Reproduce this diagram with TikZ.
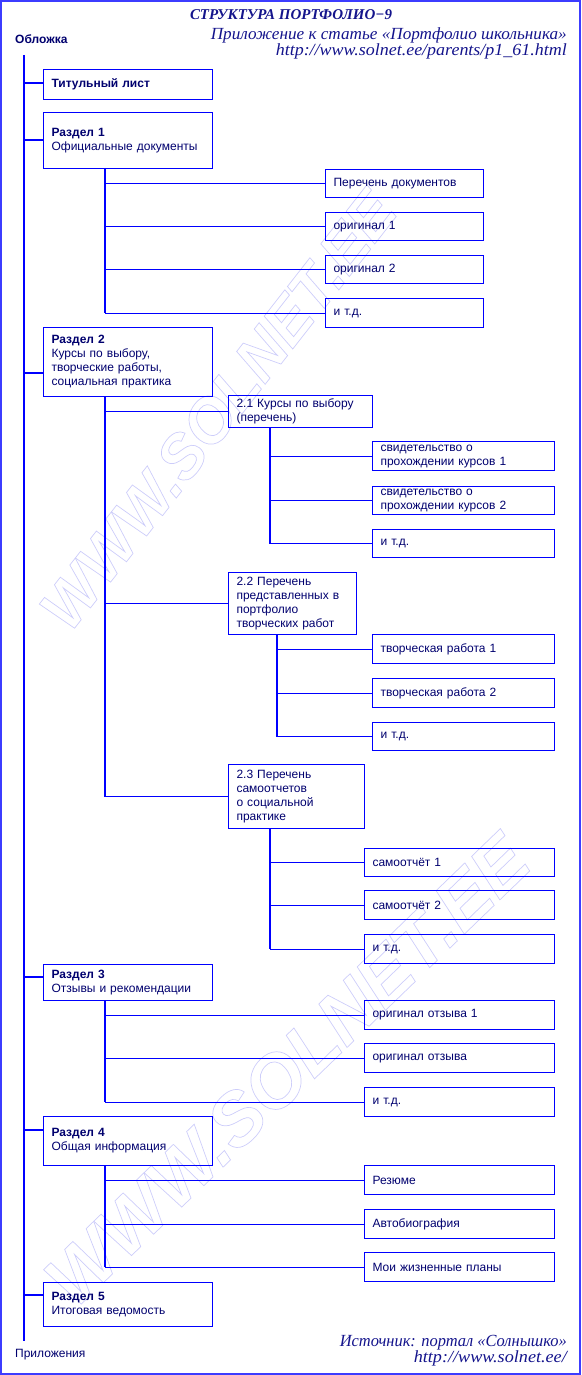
\documentclass[tikz,border=0pt]{standalone}
\usepackage{fontspec}
\usepackage{graphicx}
\setmainfont{Liberation Sans}
\newfontfamily\serifrm{Liberation Serif}
\definecolor{lineblue}{RGB}{0,0,255}
\definecolor{frameblue}{RGB}{60,60,255}
\definecolor{txt}{RGB}{0,0,110}
\definecolor{headblue}{RGB}{20,20,140}
\definecolor{wm}{RGB}{205,205,250}
\newcommand\wmtext[1]{\special{pdf:literal direct 1 Tr 0.7 w}#1\special{pdf:literal direct 0 Tr}}
\begin{document}
\begin{tikzpicture}[x=1pt,y=-1pt,
  box/.style={draw=lineblue, line width=1.1pt, anchor=north west, inner xsep=8pt, inner ysep=0pt,
    align=left, font=\fontsize{12}{14}\selectfont, text=txt},
  conn/.style={draw=lineblue, line width=1.1pt},
  plain/.style={inner sep=0pt, text=txt, font=\fontsize{12}{14}\selectfont},
  script/.style={inner sep=0pt, text=headblue, font=\serifrm\itshape\fontsize{17}{20}\selectfont},
  wmark/.style={inner sep=0pt, text=wm, font=\bfseries\itshape\fontsize{74}{80}\selectfont}]
\useasboundingbox (0,0) rectangle (581,1375);
% watermark
\node[wmark, rotate=52, font=\bfseries\itshape\fontsize{62}{66}\selectfont] (wm1) at (218,410) {\wmtext{WWW.SOLNET.EE}};
\node[wmark, rotate=44] (wm2) at (287,1070) {\wmtext{WWW.SOLNET.EE}};
% frame
\draw[frameblue, line width=2pt] (1,1) rectangle (580,1374);
% headings
\node[inner sep=0pt, anchor=base, text=headblue, font=\serifrm\bfseries\itshape\fontsize{15}{18}\selectfont] (title) at (291,20) {\resizebox{202pt}{\height}{СТРУКТУРА ПОРТФОЛИО−9}};
\node[script, anchor=base east] (sub1) at (567,40) {\resizebox{356pt}{\height}{Приложение к статье «Портфолио школьника»}};
\node[script, anchor=base east] (sub2) at (567,56) {\resizebox{291pt}{\height}{http://www.solnet.ee/parents/p1\_61.html}};
\node[script, anchor=base east] (src1) at (567,1346) {\resizebox{227pt}{\height}{Источник: портал «Солнышко»}};
\node[script, anchor=base east] (src2) at (567,1362) {\resizebox{153pt}{\height}{http://www.solnet.ee/}};
\node[plain, anchor=base west, font=\bfseries\fontsize{12}{14}\selectfont] (cover) at (15,44) {Обложка};
\node[plain, anchor=base west] (appx) at (15,1357) {Приложения};
% main boxes
\node[box, text width=153pt, minimum height=30pt] (tit) at (43,69) {\textbf{Титульный лист}};
\node[box, text width=153pt, minimum height=56pt] (r1) at (43,112) {\textbf{Раздел 1}\\Официальные документы};
\node[box, text width=153pt, minimum height=69pt] (r2) at (43,327) {\textbf{Раздел 2}\\Курсы по выбору,\\творческие работы,\\социальная практика};
\node[box, text width=153pt, minimum height=36pt] (r3) at (43,964) {\textbf{Раздел 3}\\Отзывы и рекомендации};
\node[box, text width=153pt, minimum height=49pt] (r4) at (43,1116) {\textbf{Раздел 4}\\Общая информация};
\node[box, text width=153pt, minimum height=44pt] (r5) at (43,1282) {\textbf{Раздел 5}\\Итоговая ведомость};
% section 1 children
\node[box, text width=142pt, minimum height=28pt] (c11) at (325,169) {Перечень документов};
\node[box, text width=142pt, minimum height=28pt] (c12) at (325,212) {оригинал 1};
\node[box, text width=142pt, minimum height=28pt] (c13) at (325,255) {оригинал 2};
\node[box, text width=142pt, minimum height=29pt] (c14) at (325,298) {и т.д.};
% section 2 sub boxes
\node[box, text width=128pt, minimum height=32pt] (s21) at (228,395) {2.1 Курсы по выбору\\(перечень)};
\node[box, text width=112pt, minimum height=62pt] (s22) at (228,572) {2.2 Перечень\\представленных в\\портфолио\\творческих работ};
\node[box, text width=120pt, minimum height=64pt] (s23) at (228,764) {2.3 Перечень\\самоотчетов\\о социальной\\практике};
\node[box, text width=166pt, minimum height=29pt] (c211) at (372,441) {свидетельство о\\прохождении курсов 1};
\node[box, text width=166pt, minimum height=28pt] (c212) at (372,486) {свидетельство о\\прохождении курсов 2};
\node[box, text width=166pt, minimum height=28pt] (c213) at (372,529) {и т.д.};
\node[box, text width=166pt, minimum height=29pt] (c221) at (372,634) {творческая работа 1};
\node[box, text width=166pt, minimum height=29pt] (c222) at (372,678) {творческая работа 2};
\node[box, text width=166pt, minimum height=28pt] (c223) at (372,722) {и т.д.};
\node[box, text width=174pt, minimum height=28pt] (c231) at (364,848) {самоотчёт 1};
\node[box, text width=174pt, minimum height=29pt] (c232) at (364,890) {самоотчёт 2};
\node[box, text width=174pt, minimum height=29pt] (c233) at (364,934) {и т.д.};
% section 3 children
\node[box, text width=174pt, minimum height=29pt] (c31) at (364,1000) {оригинал отзыва 1};
\node[box, text width=174pt, minimum height=29pt] (c32) at (364,1043) {оригинал отзыва};
\node[box, text width=174pt, minimum height=29pt] (c33) at (364,1087) {и т.д.};
% section 4 children
\node[box, text width=174pt, minimum height=29pt] (c41) at (364,1165) {Резюме};
\node[box, text width=174pt, minimum height=29pt] (c42) at (364,1209) {Автобиография};
\node[box, text width=174pt, minimum height=29pt] (c43) at (364,1252) {Мои жизненные планы};
% trunk
\coordinate (t0) at (24,55);
\coordinate (t1) at (24,1341);
\draw[conn] (t0) -- (t1);
\coordinate (bt) at (24,83);
\coordinate (b1) at (24,140);
\coordinate (b2) at (24,373);
\coordinate (b3) at (24,977);
\coordinate (b4) at (24,1130);
\coordinate (b5) at (24,1295);
\foreach \b/\n in {bt/tit,b1/r1,b2/r2,b3/r3,b4/r4,b5/r5}{\draw[conn] (\b) -- (\b -| \n.west);}
% sub verticals
\coordinate (v1) at (105,168);
\coordinate (v2) at (105,396);
\coordinate (v21) at (270,427);
\coordinate (v22) at (277,634);
\coordinate (v23) at (270,828);
\coordinate (v3) at (105,1000);
\coordinate (v4) at (105,1165);
\draw[conn] (v1) -- (v1 |- c14.west);
\draw[conn] (v2) -- (v2 |- s23.west);
\draw[conn] (v21) -- (v21 |- c213.west);
\draw[conn] (v22) -- (v22 |- c223.west);
\draw[conn] (v23) -- (v23 |- c233.west);
\draw[conn] (v3) -- (v3 |- c33.west);
\draw[conn] (v4) -- (v4 |- c43.west);
\foreach \v/\n in {v1/c11,v1/c12,v1/c13,v1/c14,v2/s21,v2/s22,v2/s23,
  v21/c211,v21/c212,v21/c213,v22/c221,v22/c222,v22/c223,v23/c231,v23/c232,v23/c233,
  v3/c31,v3/c32,v3/c33,v4/c41,v4/c42,v4/c43}{\draw[conn] (\v |- \n.west) -- (\n.west);}
\end{tikzpicture}
\end{document}
